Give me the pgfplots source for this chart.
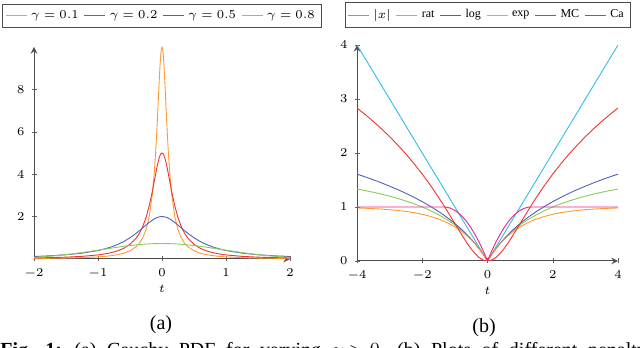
\documentclass[border=0pt]{standalone}
\usepackage{fontspec}
\setmainfont{Liberation Serif}
\usepackage{pgfplots}
\usepackage{pgfplotstable}
\pgfplotsset{compat=1.18}

\definecolor{cOrange}{HTML}{FF9933}
\definecolor{cRed}{HTML}{EE3333}
\definecolor{cBlue}{HTML}{4F63B5}
\definecolor{cGreen}{HTML}{88CC55}
\definecolor{cCyan}{HTML}{33BBEE}
\definecolor{cMag}{HTML}{EE2288}

% Cauchy PDF curves
\pgfplotstableread{
t      g01    g02    g05    g08
-2.00  0.025  0.050  0.118  0.077
-1.75  0.033  0.065  0.151  0.131
-1.50  0.044  0.087  0.200  0.206
-1.25  0.064  0.125  0.276  0.303
-1.00  0.099  0.192  0.400  0.416
-0.90  0.122  0.235  0.472  0.463
-0.80  0.154  0.294  0.562  0.509
-0.70  0.200  0.377  0.676  0.554
-0.60  0.270  0.500  0.820  0.596
-0.50  0.385  0.690  1.000  0.634
-0.40  0.588  1.000  1.220  0.667
-0.35  0.755  1.231  1.342  0.681
-0.30  1.000  1.538  1.471  0.694
-0.25  1.379  1.951  1.600  0.705
-0.20  2.000  2.500  1.724  0.714
-0.15  3.077  3.200  1.835  0.721
-0.12  4.098  3.676  1.891  0.724
-0.10  5.000  4.000  1.923  0.726
-0.09  5.525  4.158  1.937  0.726
-0.08  6.098  4.310  1.950  0.727
-0.07  6.711  4.454  1.962  0.727
-0.06  7.353  4.587  1.972  0.728
-0.05  8.000  4.706  1.980  0.728
-0.04  8.621  4.808  1.987  0.729
-0.03  9.174  4.890  1.993  0.729
-0.02  9.615  4.950  1.997  0.730
-0.01  9.901  4.988  1.999  0.730
 0.00 10.000  5.000  2.000  0.730
 0.01  9.901  4.988  1.999  0.730
 0.02  9.615  4.950  1.997  0.730
 0.03  9.174  4.890  1.993  0.729
 0.04  8.621  4.808  1.987  0.729
 0.05  8.000  4.706  1.980  0.728
 0.06  7.353  4.587  1.972  0.728
 0.07  6.711  4.454  1.962  0.727
 0.08  6.098  4.310  1.950  0.727
 0.09  5.525  4.158  1.937  0.726
 0.10  5.000  4.000  1.923  0.726
 0.12  4.098  3.676  1.891  0.724
 0.15  3.077  3.200  1.835  0.721
 0.20  2.000  2.500  1.724  0.714
 0.25  1.379  1.951  1.600  0.705
 0.30  1.000  1.538  1.471  0.694
 0.35  0.755  1.231  1.342  0.681
 0.40  0.588  1.000  1.220  0.667
 0.50  0.385  0.690  1.000  0.634
 0.60  0.270  0.500  0.820  0.596
 0.70  0.200  0.377  0.676  0.554
 0.80  0.154  0.294  0.562  0.509
 0.90  0.122  0.235  0.472  0.463
 1.00  0.099  0.192  0.400  0.416
 1.25  0.064  0.125  0.276  0.303
 1.50  0.044  0.087  0.200  0.206
 1.75  0.033  0.065  0.151  0.131
 2.00  0.025  0.050  0.118  0.077
}\cauchytab

% penalty functions
\pgfplotstableread{
x       ab     rat     lg      ex      mc      ca
-4.000  4.000  1.333   1.609   0.982   1.000   2.833
-3.750  3.750  1.304   1.558   0.977   1.000   2.712
-3.500  3.500  1.273   1.504   0.970   1.000   2.584
-3.250  3.250  1.238   1.447   0.961   1.000   2.448
-3.000  3.000  1.200   1.386   0.950   1.000   2.303
-2.750  2.750  1.158   1.322   0.936   1.000   2.147
-2.500  2.500  1.111   1.253   0.918   1.000   1.981
-2.250  2.250  1.059   1.179   0.895   1.000   1.802
-2.000  2.000  1.000   1.099   0.865   1.000   1.609
-1.750  1.750  0.933   1.012   0.826   1.000   1.402
-1.500  1.500  0.857   0.916   0.777   1.000   1.179
-1.333  1.333  0.800   0.847   0.736   1.000   1.022
-1.250  1.250  0.769   0.811   0.713   0.996   0.941
-1.125  1.125  0.720   0.754   0.675   0.976   0.818
-1.000  1.000  0.667   0.693   0.632   0.938   0.693
-0.875  0.875  0.609   0.629   0.583   0.882   0.569
-0.750  0.750  0.545   0.560   0.528   0.809   0.446
-0.625  0.625  0.476   0.486   0.465   0.718   0.330
-0.500  0.500  0.400   0.405   0.393   0.609   0.223
-0.375  0.375  0.316   0.319   0.313   0.483   0.132
-0.250  0.250  0.222   0.223   0.221   0.340   0.061
-0.125  0.125  0.118   0.118   0.118   0.179   0.016
-0.050  0.050  0.049   0.049   0.049   0.074   0.002
 0.000  0.000  0.000   0.000   0.000   0.000   0.000
 0.050  0.050  0.049   0.049   0.049   0.074   0.002
 0.125  0.125  0.118   0.118   0.118   0.179   0.016
 0.250  0.250  0.222   0.223   0.221   0.340   0.061
 0.375  0.375  0.316   0.319   0.313   0.483   0.132
 0.500  0.500  0.400   0.405   0.393   0.609   0.223
 0.625  0.625  0.476   0.486   0.465   0.718   0.330
 0.750  0.750  0.545   0.560   0.528   0.809   0.446
 0.875  0.875  0.609   0.629   0.583   0.882   0.569
 1.000  1.000  0.667   0.693   0.632   0.938   0.693
 1.125  1.125  0.720   0.754   0.675   0.976   0.818
 1.250  1.250  0.769   0.811   0.713   0.996   0.941
 1.333  1.333  0.800   0.847   0.736   1.000   1.022
 1.500  1.500  0.857   0.916   0.777   1.000   1.179
 1.750  1.750  0.933   1.012   0.826   1.000   1.402
 2.000  2.000  1.000   1.099   0.865   1.000   1.609
 2.250  2.250  1.059   1.179   0.895   1.000   1.802
 2.500  2.500  1.111   1.253   0.918   1.000   1.981
 2.750  2.750  1.158   1.322   0.936   1.000   2.147
 3.000  3.000  1.200   1.386   0.950   1.000   2.303
 3.250  3.250  1.238   1.447   0.961   1.000   2.448
 3.500  3.500  1.273   1.504   0.970   1.000   2.584
 3.750  3.750  1.304   1.558   0.977   1.000   2.712
 4.000  4.000  1.333   1.609   0.982   1.000   2.833
}\pentab

\pgfplotsset{
  panel/.style={
    scale only axis,
    axis lines=left,
    enlargelimits=false,
    axis line style={black!70, line width=0.5pt},
    tick style={black!60},
    major tick length=2.5pt,
    tick label style={font=\fontsize{5.8}{6}\selectfont},
    label style={font=\fontsize{5.8}{6}\selectfont},
    xlabel={$t$},
    xlabel style={yshift=3.5pt},
    legend columns=-1,
    legend style={draw=black!70, font=\fontsize{6}{7}\selectfont,
      anchor=south, inner sep=1.2pt,
      /tikz/every even column/.append style={column sep=0.6pt}},
    legend image code/.code={\draw[##1] (0pt,0pt) -- (10.5pt,0pt);},
    every axis plot/.append style={line width=0.45pt},
  },
}

\begin{document}
\begin{tikzpicture}
\path[use as bounding box] (0,0) rectangle (320pt,173.5pt);
\clip (0,0) rectangle (320pt,173.5pt);

\begin{axis}[panel,
  at={(17pt,44pt)}, anchor=south west,
  width=128pt, height=106pt,
  xmin=-2, xmax=2, ymin=0, ymax=10,
  xtick={-2,-1,0,1,2}, ytick={2,4,6,8},
  legend style={at={(0.5,1.09)}},
]
\addplot[draw=cOrange] table[x=t, y=g01] {\cauchytab};
\addlegendentry{$\gamma=0.1$}
\addplot[draw=cRed] table[x=t, y=g02] {\cauchytab};
\addlegendentry{$\gamma=0.2$}
\addplot[draw=cBlue] table[x=t, y=g05] {\cauchytab};
\addlegendentry{$\gamma=0.5$}
\addplot[draw=cGreen] table[x=t, y=g08] {\cauchytab};
\addlegendentry{$\gamma=0.8$}
\end{axis}

\begin{axis}[panel,
  at={(178.5pt,43pt)}, anchor=south west,
  width=130.5pt, height=108pt,
  xmin=-4, xmax=4, ymin=0, ymax=4,
  xtick={-4,-2,0,2,4}, ytick={0,1,2,3,4},
  legend style={at={(0.5,1.079)}},
]
\addplot[draw=cCyan] table[x=x, y=ab] {\pentab};
\addlegendentry{$|x|$}
\addplot[draw=cGreen] table[x=x, y=rat] {\pentab};
\addlegendentry{rat}
\addplot[draw=cBlue] table[x=x, y=lg] {\pentab};
\addlegendentry{log}
\addplot[draw=cOrange] table[x=x, y=ex] {\pentab};
\addlegendentry{exp}
\addplot[draw=cMag] table[x=x, y=mc] {\pentab};
\addlegendentry{MC}
\addplot[draw=cRed] table[x=x, y=ca] {\pentab};
\addlegendentry{Ca}
\end{axis}

\node[font=\fontsize{10}{12}\selectfont] at (80.5pt,11pt) {(a)};
\node[font=\fontsize{10}{12}\selectfont] at (242pt,9.5pt) {(b)};
\node[font=\fontsize{10}{12}\selectfont, anchor=base west, inner sep=0pt]
  at (0pt,-4.5pt) {\spaceskip=5.3pt\relax\textbf{Fig. 1:} (a) Cauchy PDF for varying $\gamma>0$. (b) Plots of different penalty functions};
\end{tikzpicture}
\end{document}
